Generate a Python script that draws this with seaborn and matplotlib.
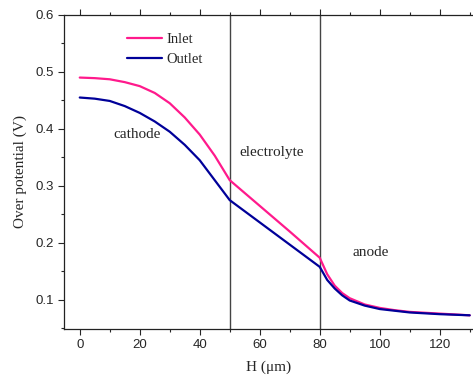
import matplotlib
matplotlib.use("Agg")
import matplotlib.pyplot as plt
from matplotlib.ticker import MultipleLocator
import numpy as np
import pandas as pd
import seaborn as sns

# data
h_um = [0, 5, 10, 15, 20, 25, 30, 35, 40, 45, 50, 60, 70, 80,
        82.5, 85, 87.5, 90, 95, 100, 105, 110, 120, 130]
inlet = [0.490, 0.489, 0.487, 0.482, 0.475, 0.463, 0.445, 0.420, 0.390, 0.353, 0.310,
         0.265, 0.220, 0.174, 0.145, 0.125, 0.112, 0.103, 0.092, 0.086, 0.082, 0.079,
         0.076, 0.073]
outlet = [0.455, 0.453, 0.449, 0.440, 0.428, 0.413, 0.395, 0.372, 0.345, 0.310, 0.275,
          0.236, 0.197, 0.158, 0.135, 0.120, 0.108, 0.099, 0.090, 0.084, 0.081, 0.078,
          0.075, 0.073]
boundaries = [50, 80]
regions = ["cathode", "electrolyte", "anode"]
region_pos = [(19, 0.39), (64, 0.358), (97, 0.183)]

df = pd.DataFrame({
    "H": h_um * 2,
    "V": inlet + outlet,
    "Series": ["Inlet"] * len(h_um) + ["Outlet"] * len(h_um),
})

sns.set_style("ticks")
serif = ["Liberation Serif", "DejaVu Serif"]
plt.rcParams["font.family"] = ["Liberation Sans", "DejaVu Sans"]

fig = plt.figure(figsize=(4.73, 3.81), dpi=100)
ax = fig.add_axes([0.135, 0.1365, 0.865, 0.8245])

palette = {"Inlet": "#ff1a8c", "Outlet": "#000099"}
sns.lineplot(data=df, x="H", y="V", hue="Series", palette=palette,
             linewidth=1.6, ax=ax, sort=False, estimator=None)

for b in boundaries:
    ax.axvline(b, color="#444444", linewidth=1.0, zorder=0)

for name, (x, y) in zip(regions, region_pos):
    ax.text(x, y, name, ha="center", va="center", fontsize=11, family=serif)

ax.set_xlim(-5.3, 131.1)
ax.set_ylim(0.049, 0.6)
ax.xaxis.set_major_locator(MultipleLocator(20))
ax.xaxis.set_minor_locator(MultipleLocator(10))
ax.yaxis.set_major_locator(MultipleLocator(0.1))
ax.yaxis.set_minor_locator(MultipleLocator(0.05))
ax.set_yticks([0.1, 0.2, 0.3, 0.4, 0.5, 0.6])
ax.tick_params(axis="both", which="major", direction="out", length=4, width=0.8,
               labelsize=9.5, pad=3)
ax.tick_params(axis="both", which="minor", direction="out", length=2.5, width=0.8)
ax.tick_params(axis="x", top=True, which="both", direction="in", length=2)
ax.tick_params(axis="x", bottom=True, which="major", direction="out", length=4)
ax.tick_params(axis="x", bottom=True, which="minor", direction="out", length=2.5)

ax.spines["right"].set_visible(False)
for s in ax.spines.values():
    s.set_linewidth(0.9)
    s.set_color("#222222")

ax.set_xlabel("H (μm)", fontsize=11, family=serif, labelpad=7)
ax.set_ylabel("Over potential (V)", fontsize=11, family=serif, labelpad=6)

leg = ax.legend(loc="upper left", bbox_to_anchor=(0.13, 0.975), frameon=False,
                prop={"family": serif, "size": 10.5}, handlelength=2.4,
                handletextpad=0.3, labelspacing=0.45, borderpad=0.2)

fig.savefig("out.png", dpi=100)
plt.close(fig)
